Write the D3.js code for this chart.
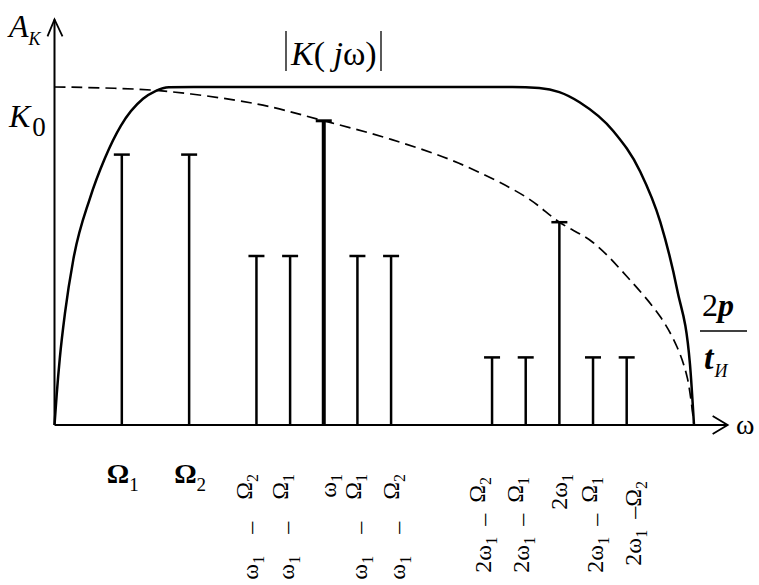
<!DOCTYPE html>
<html><head><meta charset="utf-8">
<script src="https://cdn.jsdelivr.net/npm/d3@7"></script>
<style>
html,body{margin:0;padding:0;background:#fff;}
svg{display:block;}
text{font-family:"Liberation Serif","Times New Roman","DejaVu Serif",serif;fill:#000;}
</style></head>
<body><div id="chart"></div>
<script>
// spectral lines: frequency (relative units) and amplitude (relative to K0 plateau)
const lineFreq = [2, 4, 6, 7, 8, 9, 10, 13, 14, 15, 16, 17];
const lineAmp  = [0.8, 0.8, 0.5, 0.5, 0.9, 0.5, 0.5, 0.2, 0.2, 0.6, 0.2, 0.2];
const lineLabel = ["Ω_1", "Ω_2", "ω_1 – Ω_2", "ω_1 – Ω_1", "ω_1", "ω_1 – Ω_1", "ω_1 – Ω_2",
                   "2ω_1 – Ω_2", "2ω_1 – Ω_1", "2ω_1", "2ω_1 – Ω_1", "2ω_1 –Ω_2"].map(s => s.replace(/Ν|Ω|Ω/g, "Ω"));
// |K(jω)| response (solid)
const respFreq = [0, 0.065, 0.16, 0.31, 0.56, 1.05, 1.5, 1.97, 2.63, 3.0, 3.4, 4.5, 8, 12, 13.6, 14.4, 15.0, 15.6, 16.6, 17.4, 18.0, 18.5, 18.88, 19.0];
const respAmp  = [0, 0.09, 0.2, 0.33, 0.49, 0.67, 0.79, 0.885, 0.965, 0.988, 0.999, 1.0, 1.0, 1.0, 1.0, 0.997, 0.985, 0.955, 0.87, 0.75, 0.6, 0.4, 0.18, 0];
// envelope of spectrum (dashed)
const envFreq = [0, 3, 6, 8, 10, 12, 14, 15, 16, 17, 18, 18.5, 18.8, 19];
const envAmp  = [1.0, 0.99, 0.95, 0.9, 0.845, 0.775, 0.675, 0.6, 0.54, 0.44, 0.32, 0.23, 0.14, 0];

const W = 759, H = 585;
const svg = d3.select("#chart").append("svg").attr("width", W).attr("height", H);
const x = d3.scaleLinear().domain([0, 19]).range([54.5, 694]);
const y = d3.scaleLinear().domain([0, 1]).range([425, 87]);
const xEnd = 20, yEnd = 1.2;
const SERIF = "'Liberation Serif','Times New Roman','DejaVu Serif',serif";

// axes
svg.append("line").attr("x1", x(0)).attr("x2", x(xEnd)).attr("y1", y(0)).attr("y2", y(0))
  .attr("stroke", "#000").attr("stroke-width", 2);
svg.append("line").attr("x1", x(0)).attr("x2", x(0)).attr("y1", y(0)).attr("y2", y(yEnd))
  .attr("stroke", "#000").attr("stroke-width", 2);
svg.append("path").attr("d", `M${x(xEnd)-15},${y(0)-9}L${x(xEnd)},${y(0)}L${x(xEnd)-15},${y(0)+9}`)
  .attr("fill", "none").attr("stroke", "#000").attr("stroke-width", 1.8);
svg.append("path").attr("d", `M${x(0)-7},${y(yEnd)+17}L${x(0)},${y(yEnd)}L${x(0)+8},${y(yEnd)+17}`)
  .attr("fill", "none").attr("stroke", "#000").attr("stroke-width", 1.8);

// curves
const resp = respFreq.map((f, i) => [f, respAmp[i]]);
const env = envFreq.map((f, i) => [f, envAmp[i]]);
const lineGen = d3.line().x(d => x(d[0])).y(d => y(d[1])).curve(d3.curveMonotoneX);
const envGen = d3.line().x(d => x(d[0])).y(d => y(d[1])).curve(d3.curveCatmullRom.alpha(0.5));
svg.append("path").attr("d", envGen(env)).attr("fill", "none").attr("stroke", "#000")
  .attr("stroke-width", 1.7).attr("stroke-dasharray", "11,6");
svg.append("path").attr("d", lineGen(resp)).attr("fill", "none").attr("stroke", "#000")
  .attr("stroke-width", 2.5);

// spectral lines
const carrier = 4;
const bars = svg.append("g");
lineFreq.forEach((f, i) => {
  const w = i === carrier ? 4 : 2.5;
  bars.append("line").attr("x1", x(f)).attr("x2", x(f)).attr("y1", y(0)).attr("y2", y(lineAmp[i]))
    .attr("stroke", "#000").attr("stroke-width", w);
  bars.append("line").attr("x1", x(f) - 8).attr("x2", x(f) + 8).attr("y1", y(lineAmp[i])).attr("y2", y(lineAmp[i]))
    .attr("stroke", "#000").attr("stroke-width", i === carrier ? 3 : 2.5);
});

// labels for lines
function addTokens(t, label, baseSize, subSize, subShift, gap) {
  const toks = label.split(" ");
  toks.forEach((tok, k) => {
    const [base, sub] = tok.split("_");
    const first = t.append("tspan").text(base).attr("font-size", baseSize);
    if (k > 0) first.attr("dx", gap).attr("dy", -subShift);
    if (sub !== undefined) {
      t.append("tspan").text(sub).attr("font-size", subSize).attr("dy", subShift);
    } else if (k < toks.length - 1) {
      t.append("tspan").text("").attr("dy", subShift);
    }
  });
}
const labelDx = [0, 0, 2, 4, 12, 10, 14, -1, 3, 8, 10, 14];
const labelEnd = [0, 0, 474, 474, 474, 474, 474, 477, 477, 474, 477, 481];
lineFreq.forEach((f, i) => {
  if (i < 2) {
    const t = svg.append("text").attr("x", x(f) - 15).attr("y", 483).style("font-family", SERIF);
    const [base, sub] = lineLabel[i].split("_");
    t.append("tspan").text(base).attr("font-size", 28).attr("font-weight", "bold");
    t.append("tspan").text(sub).attr("font-size", 19).attr("dy", 8);
  } else {
    const g = svg.append("g").attr("transform", `translate(${x(f) + labelDx[i]},${labelEnd[i]}) rotate(-90)`);
    const t = g.append("text").attr("text-anchor", "end").style("font-family", SERIF);
    const gap = lineLabel[i].startsWith("2") ? 11 : 22;
    addTokens(t, lineLabel[i], 24, 16, 6, gap);
  }
});

// axis titles
const ak = svg.append("text").attr("x", 9).attr("y", 37).style("font-family", SERIF);
ak.append("tspan").text("A").attr("font-size", 32).attr("font-style", "italic");
ak.append("tspan").text("K").attr("font-size", 18).attr("font-style", "italic").attr("dy", 8);

const k0 = svg.append("text").attr("x", 9).attr("y", 127).style("font-family", SERIF);
k0.append("tspan").text("K").attr("font-size", 32).attr("font-style", "italic");
k0.append("tspan").text("0").attr("font-size", 27).attr("dy", 9).attr("dx", 2);

const kj = svg.append("text").attr("x", 291).attr("y", 65).attr("font-size", 34).style("font-family", SERIF);
kj.append("tspan").text("K").attr("font-style", "italic");
kj.append("tspan").text("( ");
kj.append("tspan").text("j").attr("font-style", "italic");
kj.append("tspan").text("ω)");
svg.append("line").attr("x1", 286).attr("x2", 286).attr("y1", 31).attr("y2", 71).attr("stroke", "#000").attr("stroke-width", 1.3);
svg.append("line").attr("x1", 381).attr("x2", 381).attr("y1", 31).attr("y2", 71).attr("stroke", "#000").attr("stroke-width", 1.3);

svg.append("text").attr("x", 736).attr("y", 434).attr("font-size", 28).style("font-family", SERIF).text("ω");

const num = svg.append("text").attr("x", 702).attr("y", 316).attr("font-size", 32).style("font-family", SERIF);
num.append("tspan").text("2");
num.append("tspan").text("p").attr("font-style", "italic").attr("font-weight", "bold");
svg.append("line").attr("x1", 700).attr("x2", 747).attr("y1", 331).attr("y2", 331).attr("stroke", "#000").attr("stroke-width", 1.5);
const den = svg.append("text").attr("x", 704).attr("y", 369).style("font-family", SERIF);
den.append("tspan").text("t").attr("font-size", 34).attr("font-style", "italic").attr("font-weight", "bold");
den.append("tspan").text("И").attr("font-size", 18).attr("font-style", "italic").attr("dy", 8).attr("dx", 1);
</script></body></html>
